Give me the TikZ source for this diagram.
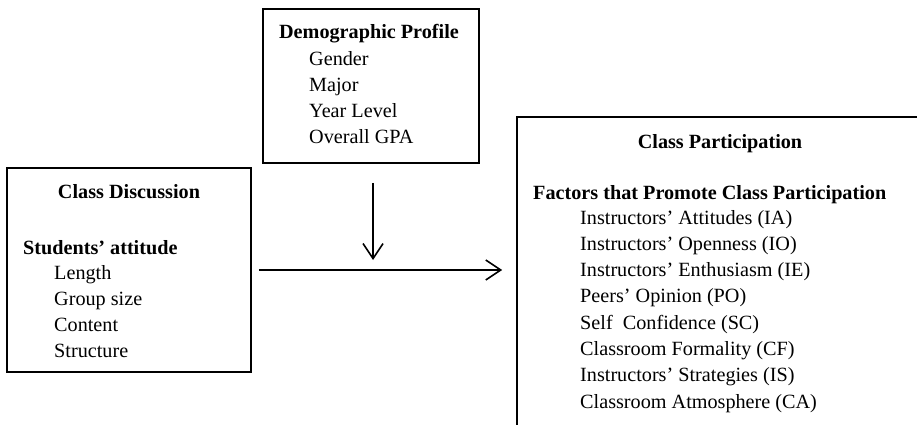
\documentclass[tikz,border=0pt]{standalone}
\usepackage{fontspec}
\setmainfont{Liberation Serif}
\usetikzlibrary{arrows.meta}

\begin{document}
\begin{tikzpicture}[x=1pt, y=-1pt, font=\fontsize{20.2}{26}\selectfont,
    box/.style={draw, rectangle, line width=1.6pt, inner sep=0pt},
    head/.style={anchor=base, font=\fontsize{20.2}{26}\selectfont\bfseries, inner sep=0pt},
    item/.style={anchor=base west, inner sep=0pt},
    arr/.style={-{Straight Barb[length=15pt, width=20pt]}, line width=1.6pt}]
    \useasboundingbox (0,0) rectangle (917,424);
    \clip (0,0) rectangle (917,424);

    % Boxes
    \node[box, minimum width=244pt, minimum height=204pt] (disc) at (129,270) {};
    \node[box, minimum width=216pt, minimum height=154pt] (demo) at (371,86) {};
    \node[box, minimum width=420pt, minimum height=330pt] (part) at (727,282) {};

    % Left box
    \node[head] (disc-title) at (129,198) {Class Discussion};
    \node[item, font=\fontsize{20.2}{26}\selectfont\bfseries] (disc-sub) at (23,254) {Students' attitude};
    \node[item] (disc-1) at (54,279) {Length};
    \node[item] (disc-2) at (54,305) {Group size};
    \node[item] (disc-3) at (54,331) {Content};
    \node[item] (disc-4) at (54,357) {Structure};

    % Top box
    \node[head] (demo-title) at (369,38) {Demographic Profile};
    \node[item] (demo-1) at (309,65) {Gender};
    \node[item] (demo-2) at (309,91) {Major};
    \node[item] (demo-3) at (309,117) {Year Level};
    \node[item] (demo-4) at (309,143) {Overall GPA};

    % Right box
    \node[head] (part-title) at (720,148) {Class Participation};
    \node[item, font=\fontsize{20.2}{26}\selectfont\bfseries] (part-sub) at (533,199) {Factors that Promote Class Participation};
    \node[item] (part-1) at (580,224) {Instructors' Attitudes (IA)};
    \node[item] (part-2) at (580,250.2) {Instructors' Openness (IO)};
    \node[item] (part-3) at (580,276.5) {Instructors' Enthusiasm (IE)};
    \node[item] (part-4) at (580,302.8) {Peers' Opinion (PO)};
    \node[item] (part-5) at (580,329.1) {Self\ \ Confidence (SC)};
    \node[item] (part-6) at (580,355.4) {Classroom Formality (CF)};
    \node[item] (part-7) at (580,381.7) {Instructors' Strategies (IS)};
    \node[item] (part-8) at (580,408) {Classroom Atmosphere (CA)};

    % Arrows
    \coordinate (meet) at (373,270);
    \draw[arr, shorten <=7pt, shorten >=14pt] (disc.east) -- (part.west |- disc.east);
    \draw[arr, shorten <=19pt, shorten >=10pt] (demo.south -| meet) -- (meet);

\end{tikzpicture}
\end{document}
